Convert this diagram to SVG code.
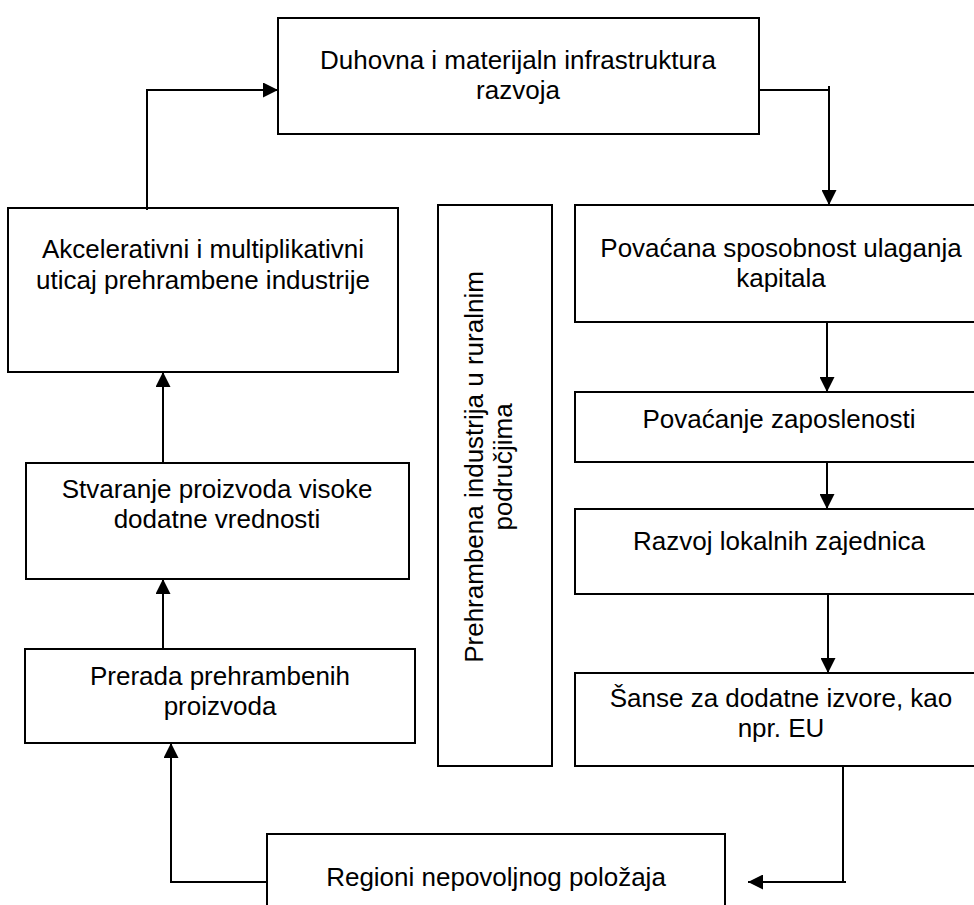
<svg xmlns="http://www.w3.org/2000/svg" width="974" height="905" viewBox="0 0 974 905">
<style>
.box{fill:#fff;stroke:#000;stroke-width:2}
.t{font-family:"Liberation Sans",Arial,sans-serif;font-size:26px;fill:#000;text-anchor:middle}
.c{fill:none;stroke:#000;stroke-width:2}
</style>
<defs>
<marker id="ah" markerWidth="15" markerHeight="15" refX="15" refY="7.5" orient="auto" markerUnits="userSpaceOnUse">
<path d="M0,0 L15,7.5 L0,15 Z" fill="#000"/>
</marker>
</defs>
<rect width="974" height="905" fill="#fff"/>
<g id="n-duhovna">
<rect class="box" x="278" y="18" width="481" height="116"/>
<text class="t" x="518" y="69">Duhovna i materijaln infrastruktura</text>
<text class="t" x="518" y="99">razvoja</text>
</g>
<g id="n-akcelerativni">
<rect class="box" x="8" y="208" width="390" height="164"/>
<text class="t" x="203" y="258">Akcelerativni i multiplikativni</text>
<text class="t" x="203" y="289">uticaj prehrambene industrije</text>
</g>
<g id="n-stvaranje">
<rect class="box" x="26" y="463" width="383" height="116"/>
<text class="t" x="217" y="498">Stvaranje proizvoda visoke</text>
<text class="t" x="217" y="528">dodatne vrednosti</text>
</g>
<g id="n-prerada">
<rect class="box" x="25" y="649" width="390" height="94"/>
<text class="t" x="220" y="685">Prerada prehrambenih</text>
<text class="t" x="220" y="715">proizvoda</text>
</g>
<g id="n-prehrambena">
<rect class="box" x="438" y="205" width="114" height="561"/>
<text class="t" transform="translate(483,467) rotate(-90)" x="0" y="0">Prehrambena industrija u ruralnim</text>
<text class="t" transform="translate(512,467) rotate(-90)" x="0" y="0">područjima</text>
</g>
<g id="n-povacana">
<rect class="box" x="575" y="205" width="413" height="117"/>
<text class="t" x="781" y="257">Povaćana sposobnost ulaganja</text>
<text class="t" x="781" y="287">kapitala</text>
</g>
<g id="n-zaposlenost">
<rect class="box" x="575" y="392" width="413" height="70"/>
<text class="t" x="779" y="428">Povaćanje zaposlenosti</text>
</g>
<g id="n-razvoj">
<rect class="box" x="575" y="509" width="413" height="85"/>
<text class="t" x="779" y="550">Razvoj lokalnih zajednica</text>
</g>
<g id="n-sanse">
<rect class="box" x="575" y="673" width="413" height="93"/>
<text class="t" x="781" y="707">Šanse za dodatne izvore, kao</text>
<text class="t" x="781" y="737">npr. EU</text>
</g>
<g id="n-regioni">
<rect class="box" x="267" y="834" width="458" height="90"/>
<text class="t" x="496" y="886">Regioni nepovoljnog položaja</text>
</g>
<g id="connectors">
<path class="c" d="M267,882 H171 V743" marker-end="url(#ah)"/>
<path class="c" d="M163,649 V579" marker-end="url(#ah)"/>
<path class="c" d="M163,463 V372" marker-end="url(#ah)"/>
<path class="c" d="M147,210 V90 H278" marker-end="url(#ah)"/>
<path class="c" d="M759,90 H829"/>
<path class="c" d="M829,86 V205" marker-end="url(#ah)"/>
<path class="c" d="M827,322 V392" marker-end="url(#ah)"/>
<path class="c" d="M827,462 V509" marker-end="url(#ah)"/>
<path class="c" d="M828,594 V673" marker-end="url(#ah)"/>
<path class="c" d="M846,882 H748" marker-end="url(#ah)"/>
<path class="c" d="M843,766 V882"/>
</g>
</svg>
